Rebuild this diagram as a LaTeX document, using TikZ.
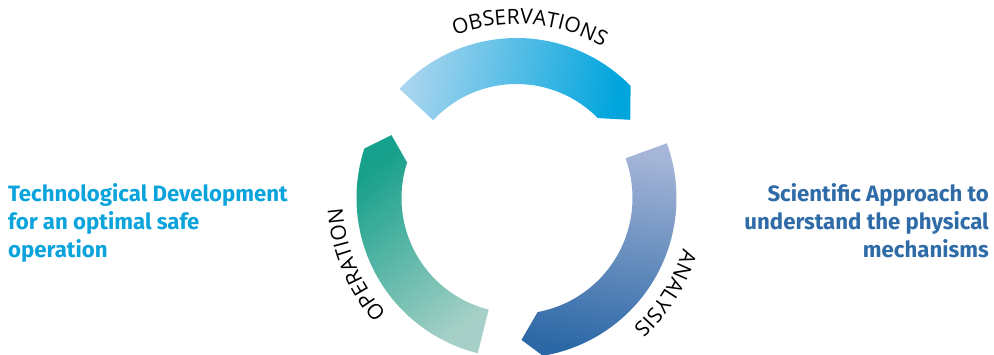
\documentclass[tikz,border=0pt]{standalone}
\usepackage{fontspec}
\setmainfont{Open Sans}
\newfontfamily\headfont{Fira Sans}
\usetikzlibrary{decorations.text}
\definecolor{obsL}{HTML}{A9D5EF}
\definecolor{obsR}{HTML}{00A5DD}
\definecolor{opD}{HTML}{17A08B}
\definecolor{opL}{HTML}{A6D0C7}
\definecolor{anL}{HTML}{A6B6D8}
\definecolor{anD}{HTML}{2C68A6}
\definecolor{techcol}{HTML}{0AA3DC}
\definecolor{scicol}{HTML}{2E6BA7}
\newcommand{\labfont}{\fontsize{21}{21}\selectfont}
\tikzset{
  lefttxt/.style={anchor=base west, inner sep=0pt, text=techcol, font=\headfont\bfseries\fontsize{22.2}{24}\selectfont},
  righttxt/.style={anchor=base east, inner sep=0pt, text=scicol, font=\headfont\bfseries\fontsize{22.2}{24}\selectfont},
}
\begin{document}
\begin{tikzpicture}[x=1pt,y=1pt]
\useasboundingbox (0,0) rectangle (994,355);
\begin{scope}[shift={(516.5pt,157pt)}]
% OBSERVATIONS arc
\path[left color=obsL, right color=obsR, shading angle=80]
  (137:160pt) arc[start angle=137, end angle=44.5, radius=160pt]
  -- (34.5:138pt) -- (44.5:114pt)
  arc[start angle=44.5, end angle=137, radius=114pt] -- cycle;
% ANALYSIS arc
\path[top color=anL, bottom color=anD, shading angle=-10]
  (20:160pt) arc[start angle=20, end angle=-80.5, radius=160pt]
  -- (-88:142pt) -- (-79.5:116pt)
  arc[start angle=-79.5, end angle=20, radius=116pt] -- cycle;
% OPERATION arc
\path[top color=opD, bottom color=opL, shading angle=40]
  (-104:160pt) arc[start angle=-104, end angle=-198, radius=160pt]
  -- (-206.7:140pt) -- (-198:115pt)
  arc[start angle=-198, end angle=-104, radius=115pt] -- cycle;
% labels
\path[decorate, decoration={text along path, text align=center, text={|\labfont|OBSERVATIONS}}]
  (130:174pt) arc[start angle=130, end angle=41, radius=174pt];
\path[decorate, decoration={text along path, text align=center, text={|\labfont|ANALYSIS}}]
  (12:174pt) arc[start angle=12, end angle=-77, radius=174pt];
\path[decorate, decoration={text along path, text align=center, text={|\labfont|OPERATION}}]
  (247:174pt) arc[start angle=247, end angle=158, radius=174pt];
\end{scope}
\node[lefttxt] (t1) at (8,153) {Technological Development};
\node[lefttxt] (t2) at (8,125) {for an optimal safe};
\node[lefttxt] (t3) at (8,97) {operation};
\node[righttxt] (s1) at (989,153) {Scientific Approach to};
\node[righttxt] (s2) at (989,125) {understand the physical};
\node[righttxt] (s3) at (989,97) {mechanisms};
\end{tikzpicture}
\end{document}
